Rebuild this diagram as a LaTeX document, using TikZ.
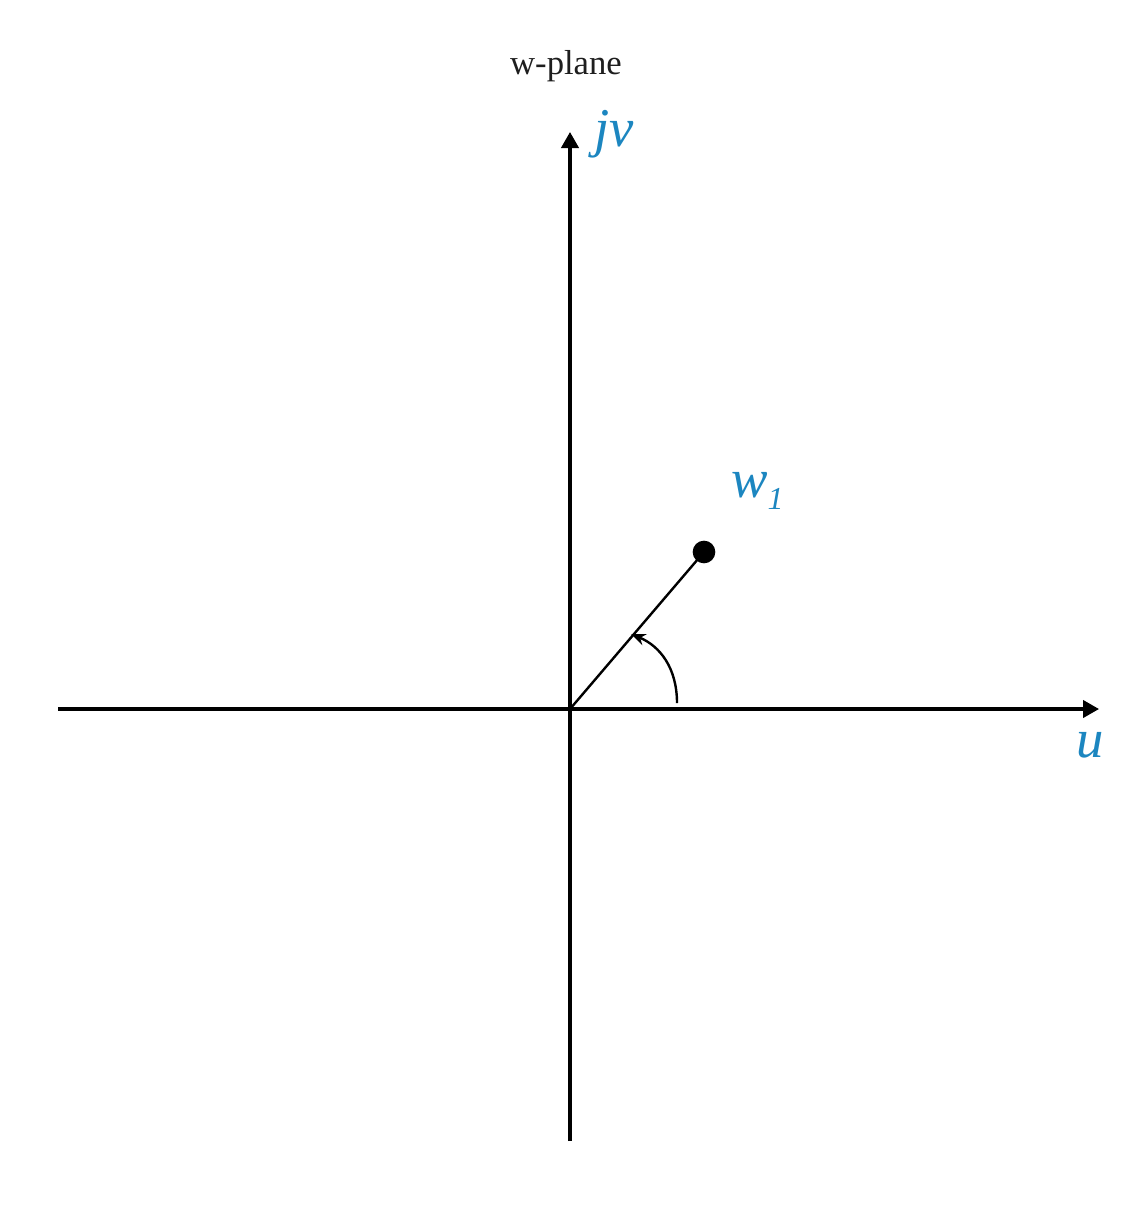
\documentclass[tikz,border=0pt]{standalone}
\usepackage{fontspec}
\setmainfont{Liberation Serif}
\usetikzlibrary{arrows.meta}
\definecolor{lblue}{RGB}{28,134,192}
\definecolor{tgray}{RGB}{30,30,30}
\begin{document}
\begin{tikzpicture}[x=0.75pt,y=-0.75pt,
  axis/.style={line width=2.3pt,-{Triangle[length=12pt,width=13pt]}},
  lbl/.style={text=lblue,font=\fontsize{41}{44}\selectfont\itshape,inner sep=0pt},
  ttl/.style={text=tgray,font=\fontsize{26}{30}\selectfont,inner sep=0pt}]
\useasboundingbox (0,0) rectangle (1136,1208);
\coordinate (O) at (570,709);
\coordinate (xl) at (58,709);
\coordinate (xr) at (1099,709);
\coordinate (yb) at (570,1141);
\coordinate (yt) at (570,132);
\draw[axis] (xl) -- (xr);
\draw[axis] (yb) -- (yt);
\node[circle,fill=black,minimum size=17pt,inner sep=0pt] (w1) at (704,552) {};
\draw[line width=1.8pt] (O) -- (w1.center);
\coordinate (as) at (677,703);
\coordinate (ae) at (631,634);
\draw[line width=1.8pt,-{Stealth[length=11pt,width=9pt]}] (as) .. controls (677,668) and (660,646) .. (ae);
\node[ttl] (title) at (566,66) {w-plane};
\node[lbl] (jv) at (614,134) {jv};
\node[lbl] (u) at (1090,745) {u};
\node[lbl,anchor=base west] (wl) at (731,497) {w\kern0pt\raisebox{-9pt}{\fontsize{24}{26}\selectfont 1}};
\end{tikzpicture}
\end{document}
